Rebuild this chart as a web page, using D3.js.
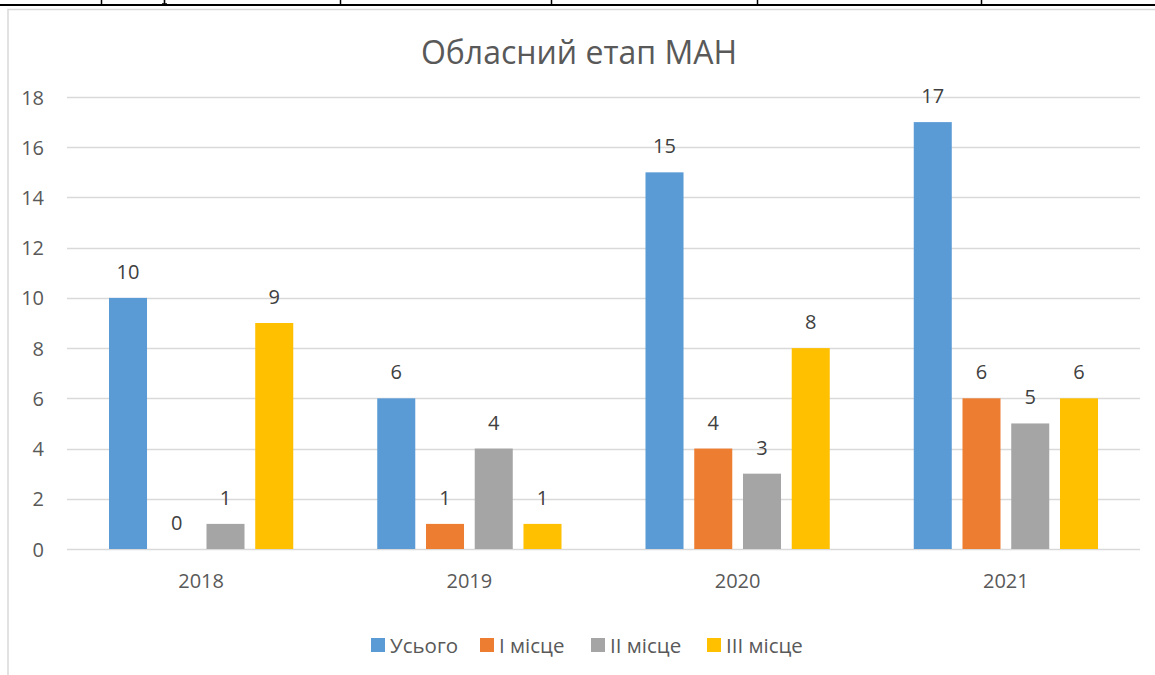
<!DOCTYPE html>
<html>
<head>
<meta charset="utf-8">
<script src="https://cdn.jsdelivr.net/npm/d3@7"></script>
<style>
  body { margin: 0; background: #fff; }
  svg { display: block; }
  text { font-family: "Open Sans", sans-serif; }
</style>
</head>
<body>
<svg id="chart" width="1155" height="675"></svg>
<script>
// ==========
// CHART DATA
// ==========
var years = ["2018", "2019", "2020", "2021"];
var seriesNames = ["Усього", "I місце", "II місце", "III місце"];
var total = [10, 6, 15, 17];
var first = [0, 1, 4, 6];
var second = [1, 4, 3, 5];
var third = [9, 1, 8, 6];
var yTicks = [0, 2, 4, 6, 8, 10, 12, 14, 16, 18];
var colors = ["#5B9BD5", "#ED7D31", "#A5A5A5", "#FFC000"];
var titleText = "Обласний етап МАН";

var seriesValues = [total, first, second, third];

var svg = d3.select("#chart"),
  width = 1155,
  height = 675;

// ####################################
// # table border above the chart
// ####################################
var tableCols = [101, 340, 551, 757, 981];
svg.append("g")
  .selectAll("line")
  .data(tableCols)
  .enter().append("line")
  .attr("x1", function (d) { return d + 0.5; })
  .attr("x2", function (d) { return d + 0.5; })
  .attr("y1", 0)
  .attr("y2", 5)
  .attr("stroke", "#000")
  .attr("stroke-width", 1.5);

// descender of a letter from the table row, cut by the page edge
svg.append("path")
  .attr("d", "M164.5,0 V4 M162,4 H167")
  .attr("stroke", "#000")
  .attr("stroke-width", 1.6)
  .attr("fill", "none");

svg.append("line")
  .attr("x1", 0).attr("x2", width)
  .attr("y1", 5).attr("y2", 5)
  .attr("stroke", "#000")
  .attr("stroke-width", 2);

// chart area frame
svg.append("rect")
  .attr("x", 8)
  .attr("y", 9.5)
  .attr("width", width + 20)
  .attr("height", height + 20)
  .attr("fill", "#fff")
  .attr("stroke", "#D9D9D9")
  .attr("stroke-width", 1.5);

// ########
// # AXES #
// ########
var plotLeft = 67, plotRight = 1140, plotTop = 97, plotBottom = 549;

var y = d3.scaleLinear()
  .domain([0, 18])
  .range([plotBottom, plotTop]);

var x0 = d3.scaleBand()
  .domain(years)
  .range([plotLeft, plotRight])
  .padding(0);

var groupPad = 42;
var x1 = d3.scaleBand()
  .domain(seriesNames)
  .range([groupPad, x0.bandwidth() - groupPad])
  .paddingInner(0.22)
  .paddingOuter(0);

// gridlines
svg.append("g")
  .selectAll("line")
  .data(yTicks)
  .enter().append("line")
  .attr("x1", plotLeft)
  .attr("x2", plotRight)
  .attr("y1", function (d) { return Math.round(y(d)) + 0.5; })
  .attr("y2", function (d) { return Math.round(y(d)) + 0.5; })
  .attr("stroke", "#D9D9D9")
  .attr("stroke-width", 1.3);

// y tick labels
var yAxis = d3.axisLeft(y).tickValues(yTicks).tickSize(0).tickPadding(0);
var yAxisG = svg.append("g")
  .attr("transform", "translate(44,0)")
  .call(yAxis);
yAxisG.select(".domain").remove();
yAxisG.selectAll("text")
  .attr("font-family", "Open Sans, sans-serif")
  .attr("font-size", 20)
  .attr("fill", "#595959")
  .attr("dy", "0.35em");

// x tick labels
var xAxis = d3.axisBottom(x0).tickSize(0).tickPadding(0);
var xAxisG = svg.append("g")
  .attr("transform", "translate(0," + plotBottom + ")")
  .call(xAxis);
xAxisG.select(".domain").remove();
xAxisG.selectAll("text")
  .attr("font-family", "Open Sans, sans-serif")
  .attr("font-size", 20)
  .attr("fill", "#595959")
  .attr("dy", 0)
  .attr("y", 39);

// ########
// # BARS #
// ########
var rows = years.map(function (yr, i) {
  return {
    year: yr,
    values: seriesNames.map(function (s, j) {
      return { series: s, idx: j, value: seriesValues[j][i] };
    })
  };
});

var groups = svg.append("g")
  .selectAll("g")
  .data(rows)
  .enter().append("g")
  .attr("transform", function (d) { return "translate(" + x0(d.year) + ",0)"; });

groups.selectAll("rect")
  .data(function (d) { return d.values; })
  .enter().append("rect")
  .attr("x", function (d) { return x1(d.series); })
  .attr("y", function (d) { return y(d.value); })
  .attr("width", x1.bandwidth())
  .attr("height", function (d) { return plotBottom - y(d.value); })
  .attr("fill", function (d) { return colors[d.idx]; });

groups.selectAll("text")
  .data(function (d) { return d.values; })
  .enter().append("text")
  .attr("x", function (d) { return x1(d.series) + x1.bandwidth() / 2; })
  .attr("y", function (d) { return y(d.value) - 19; })
  .attr("text-anchor", "middle")
  .attr("font-size", 20)
  .attr("fill", "#404040")
  .text(function (d) { return d.value; });

// #########
// # TITLE #
// #########
svg.append("text")
  .attr("x", 579)
  .attr("y", 64)
  .attr("text-anchor", "middle")
  .attr("font-size", 32)
  .attr("fill", "#595959")
  .text(titleText);

// ##########
// # LEGEND #
// ##########
var legendX = [371, 480, 591, 707];
var legend = svg.append("g")
  .selectAll("g")
  .data(seriesNames)
  .enter().append("g")
  .attr("transform", function (d, i) { return "translate(" + legendX[i] + ",638)"; });

legend.append("rect")
  .attr("width", 14)
  .attr("height", 14)
  .attr("fill", function (d, i) { return colors[i]; });

legend.append("text")
  .attr("x", 19)
  .attr("y", 14.5)
  .attr("font-size", 20.5)
  .attr("fill", "#595959")
  .text(function (d) { return d; });
</script>
</body>
</html>
